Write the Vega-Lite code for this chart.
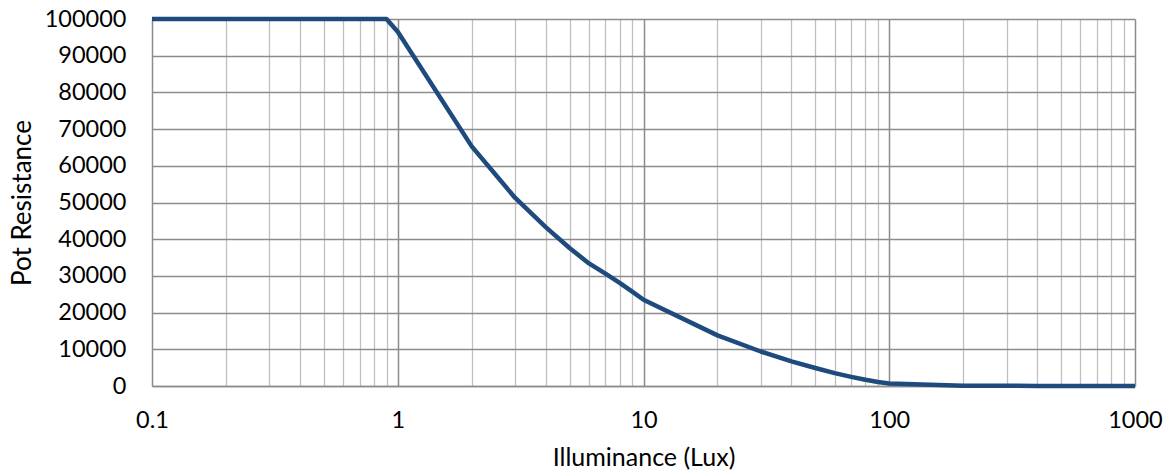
{
  "$schema": "https://vega.github.io/schema/vega-lite/v6.json",
  "width": 983,
  "height": 367,
  "autosize": {"type": "none"},
  "padding": {"left": 152, "top": 19, "right": 33, "bottom": 89},
  "background": "white",
  "config": {
    "view": {"stroke": null},
    "font": "Lato"
  },
  "data": {
    "values": [
      {"lux": 0.1, "r": 100000},
      {"lux": 0.2, "r": 100000},
      {"lux": 0.3, "r": 100000},
      {"lux": 0.4, "r": 100000},
      {"lux": 0.5, "r": 100000},
      {"lux": 0.6, "r": 100000},
      {"lux": 0.7, "r": 100000},
      {"lux": 0.8, "r": 100000},
      {"lux": 0.9, "r": 100000},
      {"lux": 1, "r": 96500},
      {"lux": 2, "r": 65300},
      {"lux": 3, "r": 51300},
      {"lux": 4, "r": 43300},
      {"lux": 5, "r": 37600},
      {"lux": 6, "r": 33400},
      {"lux": 7, "r": 30600},
      {"lux": 8, "r": 28100},
      {"lux": 9, "r": 25700},
      {"lux": 10, "r": 23500},
      {"lux": 20, "r": 13800},
      {"lux": 30, "r": 9400},
      {"lux": 40, "r": 6700},
      {"lux": 50, "r": 4900},
      {"lux": 60, "r": 3500},
      {"lux": 70, "r": 2500},
      {"lux": 80, "r": 1700},
      {"lux": 90, "r": 1100},
      {"lux": 100, "r": 700},
      {"lux": 200, "r": 100},
      {"lux": 300, "r": 50},
      {"lux": 400, "r": 30},
      {"lux": 500, "r": 20},
      {"lux": 600, "r": 10},
      {"lux": 700, "r": 10},
      {"lux": 800, "r": 5},
      {"lux": 900, "r": 5},
      {"lux": 1000, "r": 0}
    ]
  },
  "mark": {"type": "line", "color": "#1f4a7d", "strokeWidth": 4.5, "strokeJoin": "round", "clip": false},
  "encoding": {
    "x": {
      "field": "lux",
      "type": "quantitative",
      "scale": {"type": "log", "domain": [0.1, 1000], "nice": false},
      "axis": {
        "title": "Illuminance (Lux)",
        "titleFont": "Lato",
        "titleFontSize": 25,
        "titleFontWeight": "normal",
        "titleColor": "#000000",
        "titlePadding": 14,
        "values": [0.1,0.2,0.3,0.4,0.5,0.6,0.7,0.8,0.9,1,2,3,4,5,6,7,8,9,10,20,30,40,50,60,70,80,90,100,200,300,400,500,600,700,800,900,1000],
        "labelExpr": "(datum.value == 0.1 || datum.value == 1 || datum.value == 10 || datum.value == 100 || datum.value == 1000) ? (datum.value == 0.1 ? '0.1' : format(datum.value, 'd')) : ''",
        "labelFont": "Lato",
        "labelFontSize": 23.5,
        "labelColor": "#000000",
        "labelPadding": 22,
        "labelOverlap": false,
        "labelFlush": false,
        "ticks": false,
        "domain": true,
        "domainColor": "#8c8c8c",
        "domainWidth": 1.5,
        "grid": true,
        "gridColor": {"condition": {"test": "datum.value == 0.1 || datum.value == 1 || datum.value == 10 || datum.value == 100 || datum.value == 1000", "value": "#8c8c8c"}, "value": "#c0c0c0"},
        "gridWidth": {"condition": {"test": "datum.value == 0.1 || datum.value == 1 || datum.value == 10 || datum.value == 100 || datum.value == 1000", "value": 1.5}, "value": 1.3}
      }
    },
    "y": {
      "field": "r",
      "type": "quantitative",
      "scale": {"domain": [0, 100000], "nice": false},
      "axis": {
        "title": "Pot Resistance",
        "titleFont": "Lato",
        "titleFontSize": 26,
        "titleFontWeight": "normal",
        "titleColor": "#000000",
        "titlePadding": 9,
        "values": [0,10000,20000,30000,40000,50000,60000,70000,80000,90000,100000],
        "format": "d",
        "labelFont": "Lato",
        "labelFontSize": 23.5,
        "labelColor": "#000000",
        "labelPadding": 26,
        "ticks": false,
        "domain": false,
        "grid": true,
        "gridColor": "#8c8c8c",
        "gridWidth": 1.5
      }
    }
  }
}
